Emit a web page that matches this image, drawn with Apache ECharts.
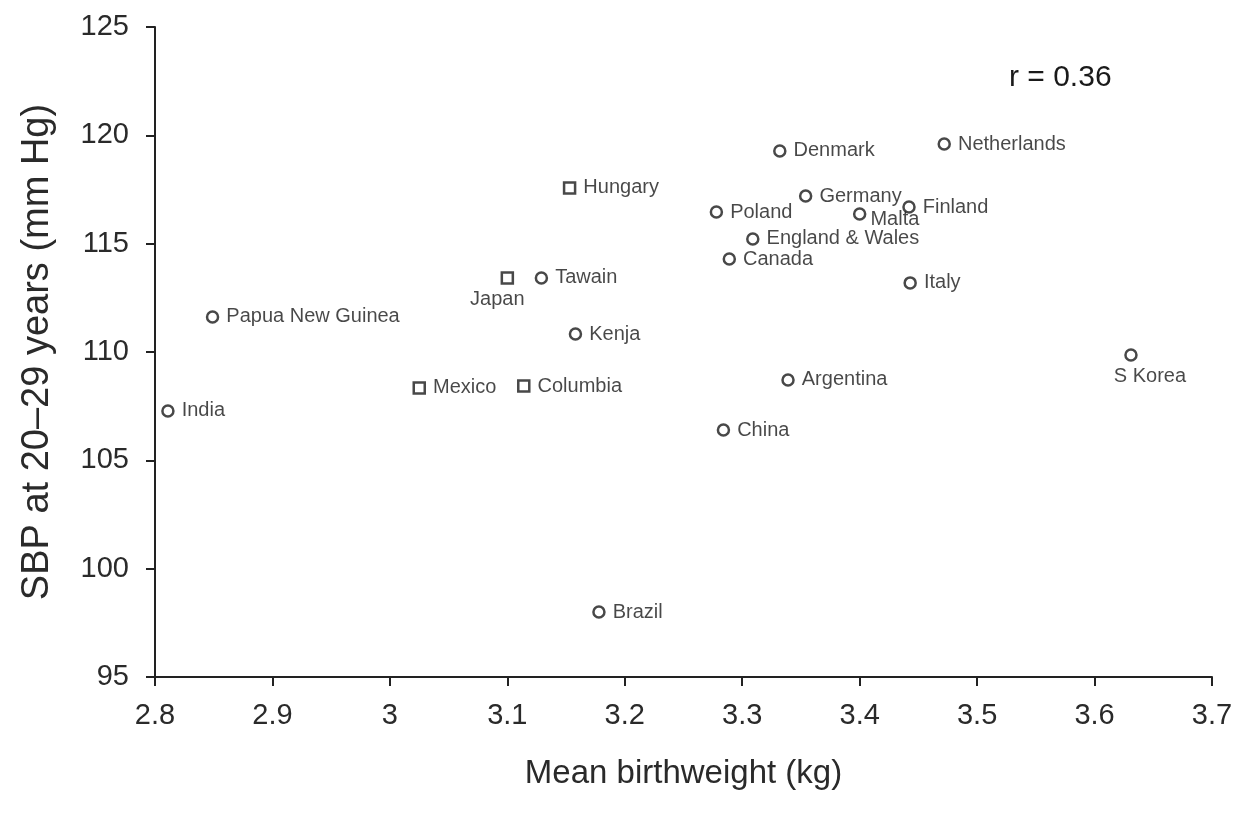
<!DOCTYPE html>
<html>
<head>
<meta charset="utf-8">
<script src="https://cdn.jsdelivr.net/npm/echarts@6/dist/echarts.min.js"></script>
<style>html,body{margin:0;padding:0;background:#fff;}#c{width:1240px;height:819px;}</style>
</head>
<body>
<div id="c"></div>
<script>
const countries = ["India","Papua New Guinea","Mexico","Columbia","Japan","Tawain","Hungary","Kenja","Brazil","Poland","Canada","England & Wales","China","Denmark","Germany","Argentina","Malta","Finland","Italy","Netherlands","S Korea"];
const birthweight = [2.811,2.849,3.025,3.114,3.100,3.129,3.153,3.158,3.178,3.278,3.289,3.309,3.284,3.332,3.354,3.339,3.400,3.442,3.443,3.472,3.631];
const sbp = [107.28,111.62,108.34,108.43,113.42,113.42,117.57,110.83,98.0,116.46,114.29,115.22,106.40,119.28,117.2,108.71,116.37,116.69,113.19,119.6,109.86];
const xTicks = [2.8,2.9,3.0,3.1,3.2,3.3,3.4,3.5,3.6,3.7];
const yTicks = [95,100,105,110,115,120,125];
const rText = "r = 0.36";

const FONT = '"Liberation Sans", Arial, sans-serif';
const squareOnes = {"Mexico":1,"Columbia":1,"Japan":1,"Hungary":1};
const labelOverrides = {
  "Japan": {position:'bottom', offset:[-10,-2]},
  "Malta": {position:'right', offset:[-3,6]},
  "S Korea": {position:'bottom', offset:[19,-2]}
};
const data = countries.map((n,i)=>{
  const item = {name:n, value:[birthweight[i], sbp[i]]};
  if (squareOnes[n]) item.symbol = 'rect';
  if (labelOverrides[n]) item.label = labelOverrides[n];
  return item;
});

const chart = echarts.init(document.getElementById('c'), null, {renderer:'canvas'});
chart.setOption({
  animation:false,
  backgroundColor:'#fff',
  grid:{left:155, right:28, top:27, bottom:142, containLabel:false},
  xAxis:{
    type:'value', min:2.8, max:3.7, interval:0.1,
    name:'Mean birthweight (kg)', nameLocation:'middle', nameGap:80,
    nameTextStyle:{fontFamily:FONT, fontSize:33, color:'#2a2a2a'},
    axisLine:{show:true, lineStyle:{color:'#222', width:2}},
    axisTick:{show:true, length:9, lineStyle:{color:'#222', width:2}},
    axisLabel:{fontFamily:FONT, fontSize:29, color:'#2a2a2a', margin:24,
      formatter:v=>{const t=xTicks.find(k=>Math.abs(k-v)<1e-6); return t===undefined?'':String(t);}},
    splitLine:{show:false}
  },
  yAxis:{
    type:'value', min:95, max:125, interval:5,
    name:'SBP at 20\u201329 years (mm Hg)', nameLocation:'middle', nameGap:98, nameRotate:90,
    nameTextStyle:{fontFamily:FONT, fontSize:38, color:'#2a2a2a'},
    axisLine:{show:true, lineStyle:{color:'#222', width:2}},
    axisTick:{show:true, length:9, lineStyle:{color:'#222', width:2}},
    axisLabel:{fontFamily:FONT, fontSize:29, color:'#2a2a2a', margin:26,
      formatter:v=>{const t=yTicks.find(k=>Math.abs(k-v)<1e-6); return t===undefined?'':String(t);}},
    splitLine:{show:false}
  },
  series:[{
    type:'scatter',
    data:data,
    symbol:'circle',
    symbolSize:11,
    itemStyle:{color:'#fff', borderColor:'#1a1a1a', borderWidth:2.5},
    label:{show:true, position:'right', distance:7, formatter:p=>p.name,
      fontFamily:FONT, fontSize:20, color:'#1a1a1a'}
  }],
  graphic:[{
    type:'text', left:1009, top:63,
    style:{text:rText, font:'30px "Liberation Sans", Arial, sans-serif', fill:'#1a1a1a'}
  }]
});
</script>
</body>
</html>
